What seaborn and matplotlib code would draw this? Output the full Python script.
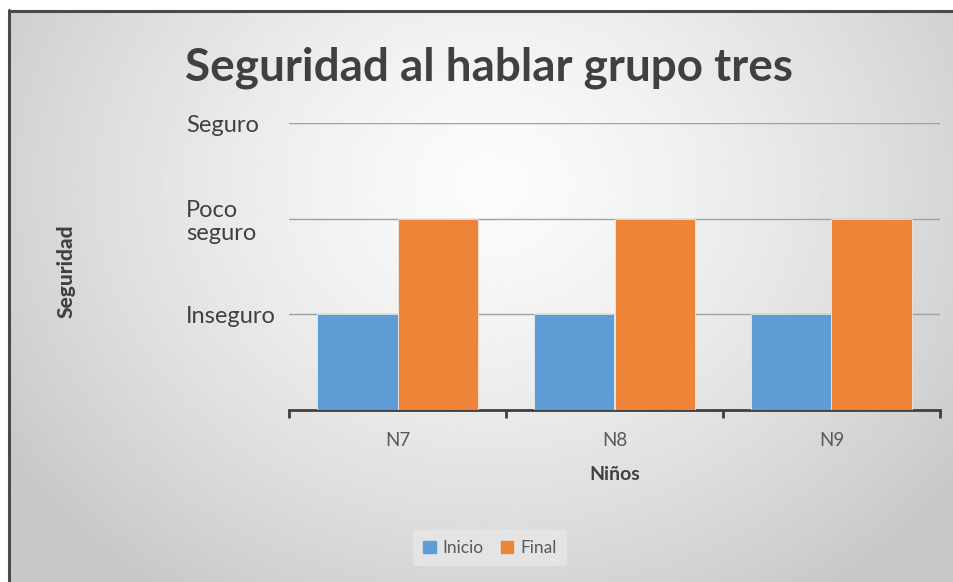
import numpy as np
import pandas as pd
import matplotlib
matplotlib.use("Agg")
import matplotlib.pyplot as plt
import seaborn as sns
from matplotlib.lines import Line2D

ninos = ["N7", "N8", "N9"]
inicio = [1, 1, 1]
final = [2, 2, 2]
series = ["Inicio", "Final"]
niveles = ["Inseguro", "Poco\nseguro", "Seguro"]
titulo = "Seguridad al hablar grupo tres"

df = pd.DataFrame({
    "Niños": ninos * 2,
    "Seguridad": inicio + final,
    "Serie": [series[0]] * len(ninos) + [series[1]] * len(ninos),
})

sns.set_theme(style="white")
plt.rcParams['font.family'] = ['Lato', 'DejaVu Sans']

W, H = 954, 582
fig = plt.figure(figsize=(W / 100, H / 100), dpi=100)
fig.patch.set_facecolor("white")

# background gradient panel
bg = fig.add_axes([10 / W, -0.02, 1.02 - 10 / W, 1.02 - 11 / H])
bg.set_axis_off()
yy, xx = np.mgrid[0:1:300j, 0:1:500j]
r = np.sqrt(((xx - 0.5) / 0.6) ** 2 + ((yy - 0.3) / 0.85) ** 2)
val = 0.985 - 0.2 * np.clip(r, 0, 1.0) ** 1.4
bg.imshow(val, cmap="gray", vmin=0, vmax=1, aspect="auto", extent=[0, 1, 1, 0],
          interpolation="bilinear")
bg.set_xlim(0, 1)
bg.set_ylim(1, 0)
fig.add_artist(Line2D([9 / W, 9 / W], [0, 1 - 10 / H], transform=fig.transFigure,
                      color="#4a4a4a", lw=2.2))
fig.add_artist(Line2D([9 / W, 1], [1 - 10.5 / H, 1 - 10.5 / H], transform=fig.transFigure,
                      color="#4a4a4a", lw=2.2))

ax = fig.add_axes([289 / W, 1 - 410 / H, (940 - 289) / W, (410 - 123) / H])
ax.patch.set_alpha(0)
sns.barplot(data=df, x="Niños", y="Seguridad", hue="Serie",
            palette=["#5E9CD6", "#ED8437"], width=0.74, ax=ax,
            saturation=1, legend=False, zorder=3, linewidth=0.5, edgecolor="#f2f2f2")
ax.set_ylim(0, 3)
ax.set_xlim(-0.5, len(ninos) - 0.5)
ax.set_yticks([1, 2, 3])
ax.set_yticklabels(niveles, ha="left", fontsize=17, color="#404040", linespacing=1.15)
ax.tick_params(axis="y", length=0, pad=74)
ax.yaxis.grid(True, color="#a0a0a0", lw=1)
ax.set_axisbelow(True)
for s in ["top", "right", "left"]:
    ax.spines[s].set_visible(False)
ax.spines["bottom"].set_color("#3f3f3f")
ax.spines["bottom"].set_linewidth(2)
ax.set_xticks(range(len(ninos)))
ax.set_xticklabels(ninos, fontsize=13.5, color="#595959")
ax.set_xticks(np.arange(-0.5, len(ninos), 1), minor=True)
ax.tick_params(axis="x", which="major", bottom=True, length=0, pad=16)
ax.tick_params(axis="x", which="minor", bottom=True, length=6, width=2,
               color="#3f3f3f", direction="out")
ax.set_xlabel("Niños", fontsize=14, fontweight="bold", color="#404040", labelpad=12)
ax.set_ylabel("")

fig.text(66 / W, 1 - 271 / H, "Seguridad", rotation=90, ha="center", va="center",
         fontsize=15, fontweight="black", color="#404040")
fig.text(185 / W, 1 - 68 / H, titulo, ha="left", va="center",
         fontsize=33, fontweight="bold", color="#404040")

handles = [plt.Rectangle((0, 0), 1, 1, color=c) for c in ["#5E9CD6", "#ED8437"]]
leg = fig.legend(handles, series, loc="center", bbox_to_anchor=(490 / W, 1 - 548 / H),
                 ncol=2, frameon=True, fontsize=12.5, handlelength=0.7, handleheight=0.7,
                 handletextpad=0.4, columnspacing=1.0, borderpad=0.6)
leg.get_frame().set_facecolor("#e6e6e6")
leg.get_frame().set_edgecolor("none")
leg.get_frame().set_alpha(0.9)
for t in leg.get_texts():
    t.set_color("#595959")

fig.savefig("out.png", dpi=100)
